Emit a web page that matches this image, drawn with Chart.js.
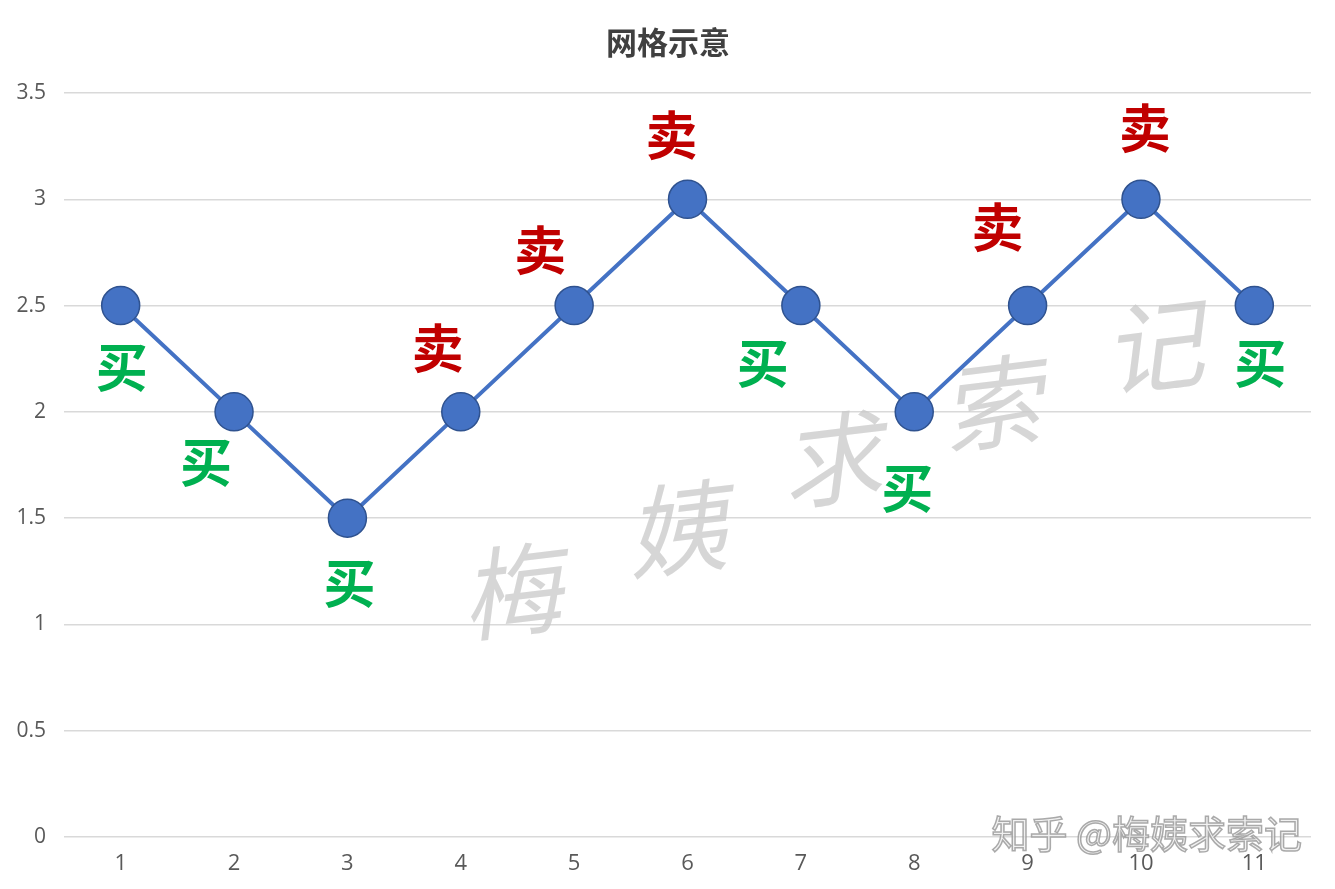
<!DOCTYPE html>
<html><head><meta charset="utf-8">
<script src="https://cdn.jsdelivr.net/npm/chart.js@4/dist/chart.umd.min.js"></script>
<style>html,body{margin:0;padding:0;background:#fff}#wrap{width:1335px;height:889px}</style>
</head><body><div id="wrap"><canvas id="c" width="1335" height="889"></canvas></div>
<script>
const categories = ['1','2','3','4','5','6','7','8','9','10','11'];
const prices = [2.5, 2, 1.5, 2, 2.5, 3, 2.5, 2, 2.5, 3, 2.5];
const actions = ['买','买','买','卖','卖','卖','买','买','卖','卖','买'];
const titleText = '网格示意';
const watermarkChars = ['梅','姨','求','索','记'];
const footerText = '知乎 @梅姨求索记';

// label placement offsets (pixels, relative to the point)
const labelOffsets = [[1,62],[-28,50],[2,65],[-23,-64],[-34,-55],[-16,-64],[-38,58],[-7,76],[-30,-78],[4,-71],[6,58]];
const wmPos = [[520,590],[685,528],[840,458],[1000,402],[1162,345]];

const CJK = '"Noto Sans CJK SC", "Noto Sans", sans-serif';

const overlay = {
  id: 'overlay',
  beforeDatasetsDraw(chart) {
    const ctx = chart.ctx;
    ctx.save();
    ctx.fillStyle = 'rgba(200,200,200,0.75)';
    ctx.font = '400 100px ' + CJK;
    ctx.textAlign = 'center'; ctx.textBaseline = 'middle';
    watermarkChars.forEach((ch, i) => {
      ctx.save();
      ctx.translate(wmPos[i][0], wmPos[i][1]);
      ctx.rotate(-0.12);
      ctx.transform(1, 0, -0.25, 1, 0, 0);
      ctx.fillText(ch, 0, 0);
      ctx.restore();
    });
    ctx.restore();
  },
  afterDatasetsDraw(chart) {
    const ctx = chart.ctx;
    const meta = chart.getDatasetMeta(0);
    ctx.save();
    ctx.textAlign = 'center'; ctx.textBaseline = 'middle';
    ctx.font = '600 52px ' + CJK;
    meta.data.forEach((pt, i) => {
      ctx.fillStyle = actions[i] === '买' ? '#00B050' : '#C00000';
      ctx.fillText(actions[i], pt.x + labelOffsets[i][0], pt.y + labelOffsets[i][1]);
    });
    // title
    ctx.fillStyle = '#404040';
    ctx.font = '700 31px ' + CJK;
    ctx.fillText(titleText, 668, 42);
    // footer watermark
    ctx.font = '400 38px ' + CJK;
    ctx.textAlign = 'right';
    ctx.lineWidth = 1.5;
    ctx.strokeStyle = 'rgba(150,150,150,0.8)';
    ctx.fillStyle = 'rgba(235,235,235,0.7)';
    ctx.fillText(footerText, 1302, 834);
    ctx.strokeText(footerText, 1302, 834);
    ctx.restore();
  }
};

new Chart(document.getElementById('c'), {
  type: 'line',
  data: {
    labels: categories,
    datasets: [{
      data: prices,
      borderColor: '#4472C4',
      borderWidth: 4,
      pointRadius: 19,
      pointHoverRadius: 19,
      pointBackgroundColor: '#4472C4',
      pointBorderColor: '#2F528F',
      pointBorderWidth: 1.5,
      tension: 0,
      clip: false
    }]
  },
  options: {
    responsive: false,
    animation: false,
    events: [],
    layout: { padding: { top: 93, right: 24, left: 0, bottom: 0 } },
    plugins: { legend: { display: false }, tooltip: { enabled: false }, title: { display: false } },
    scales: {
      x: {
        offset: true,
        grid: { display: false },
        border: { display: false },
        ticks: { color: '#595959', font: { size: 22, family: '"Open Sans", "Liberation Sans", sans-serif' }, padding: 6, maxRotation: 0 },
        afterFit(s) { s.height = 52; }
      },
      y: {
        min: 0, max: 3.5,
        grid: { color: '#d9d9d9', lineWidth: 1.5, drawTicks: false },
        border: { display: false },
        ticks: { stepSize: 0.5, color: '#595959', font: { size: 21, family: '"Open Sans", "Liberation Sans", sans-serif' }, padding: 18, callback: v => String(v) },
        afterFit(s) { s.width = 64; }
      }
    }
  },
  plugins: [overlay]
});
</script>
</body></html>
